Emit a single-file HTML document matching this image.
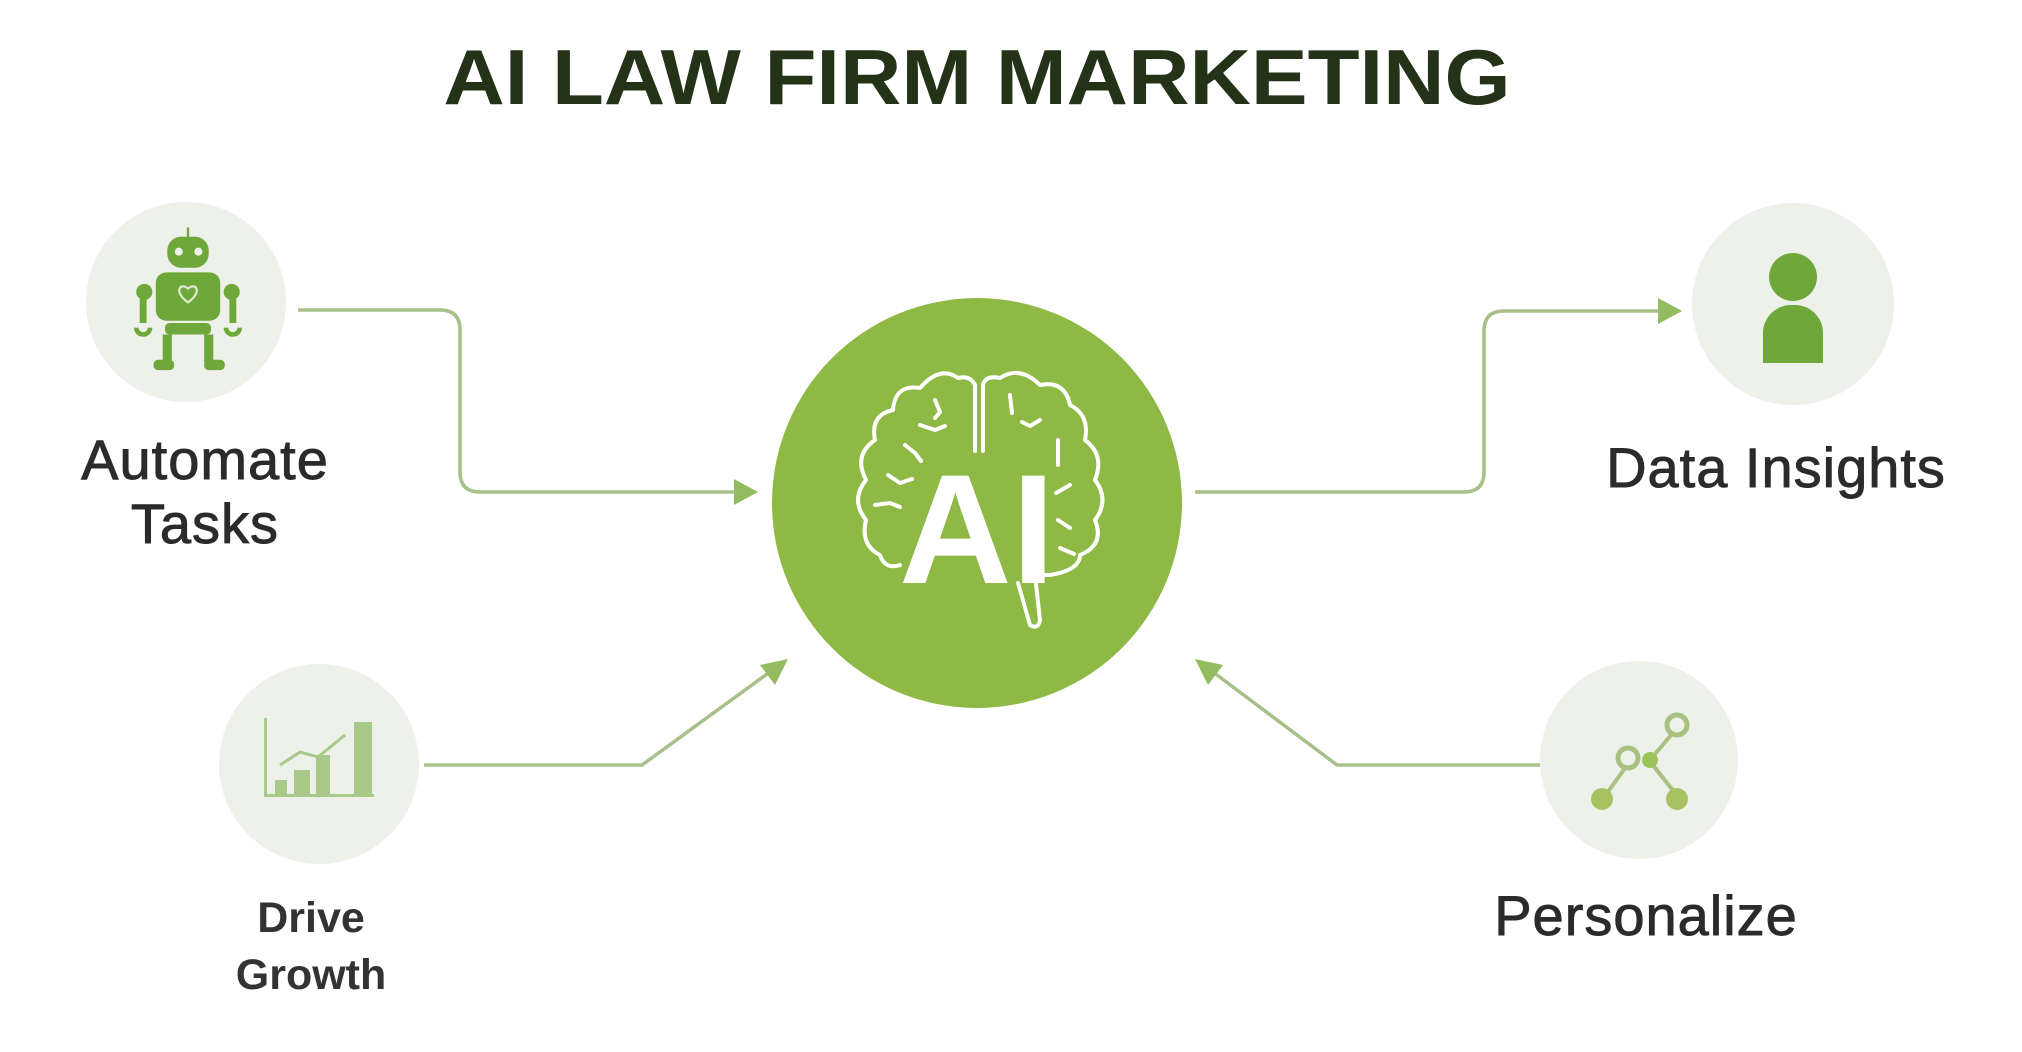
<!DOCTYPE html>
<html><head><meta charset="utf-8"><style>
html,body{margin:0;padding:0;background:#fff;}
body{width:2022px;height:1052px;position:relative;overflow:hidden;font-family:"Liberation Sans",sans-serif;}
.t{position:absolute;color:#2b2b2b;text-align:center;white-space:nowrap;transform:translateX(-50%);-webkit-text-stroke:0.9px #2b2b2b;}
</style></head><body>
<svg width="2022" height="1052" style="position:absolute;left:0;top:0">
<g fill="none" stroke="#a9c08a" stroke-width="3.5">
<path d="M298 310 H440 Q460 310 460 330 V472 Q460 492 480 492 H738"/>
<path d="M1195 492 H1464 Q1484 492 1484 472 V331 Q1484 311 1504 311 H1662"/>
<path d="M424 765 H642 L778 666"/>
<path d="M1540 765 H1337 L1205 666"/>
</g>
<g fill="#95bb60">
<polygon points="758,492 734,479 734,505"/>
<polygon points="1682,311 1658,298 1658,324"/>
<polygon points="788,659 760,665 775,685"/>
<polygon points="1195,659 1208,685 1223,665"/>
</g>
<circle cx="186" cy="302" r="100" fill="#eef0ea"/>
<circle cx="1793" cy="304" r="101" fill="#eef0ea"/>
<circle cx="319" cy="764" r="100" fill="#eef0ea"/>
<circle cx="1639" cy="760" r="99" fill="#eef0ea"/>
<circle cx="977" cy="503" r="205" fill="#8db944"/>
<g transform="translate(188,300) scale(1.15) translate(-188,-298)">
<g fill="#6fa83a">
<rect x="187" y="235" width="2" height="10"/>
<rect x="170" y="243" width="36" height="27" rx="12"/>
<rect x="160" y="274" width="56" height="42" rx="9"/>
<circle cx="150" cy="291" r="7"/><circle cx="226" cy="291" r="7"/>
<rect x="146" y="296" width="6" height="22"/><rect x="224" y="296" width="6" height="22"/>
<rect x="168" y="318" width="40" height="10" rx="4"/>
<rect x="166" y="328" width="8" height="24"/><rect x="202" y="328" width="8" height="24"/>
<rect x="158" y="350" width="18" height="9" rx="4"/><rect x="202" y="350" width="18" height="9" rx="4"/>
</g>
<g fill="none" stroke="#6fa83a" stroke-width="4"><path d="M143 322 a6 6 0 0 0 12 0"/><path d="M221 322 a6 6 0 0 0 12 0"/></g>
<circle cx="180" cy="256" r="3.5" fill="#eef0ea"/><circle cx="197" cy="256" r="3.5" fill="#eef0ea"/>
<path d="M188 288 c-8 -6 -12 4 0 12 c12 -8 8 -18 0 -12z" fill="none" stroke="#dfe9cf" stroke-width="2"/>
</g>
<g fill="#6fa83a">
<circle cx="1793" cy="277" r="24"/>
<path d="M1763 363 V333 a28 28 0 0 1 28 -28 h4 a28 28 0 0 1 28 28 V363 z"/>
</g>
<g fill="#a8c98a">
<rect x="264" y="794" width="110" height="3"/>
<rect x="264" y="718" width="3" height="78"/>
<rect x="275" y="780" width="12" height="14"/>
<rect x="294" y="770" width="16" height="24"/>
<rect x="316" y="755" width="14" height="39"/>
<rect x="354" y="722" width="18" height="72"/>
</g>
<path d="M280 765 L300 752 L318 757 L345 735" fill="none" stroke="#a8c98a" stroke-width="3"/>
<g stroke="#a8c080" stroke-width="4" fill="none">
<line x1="1602" y1="800" x2="1628" y2="764"/><line x1="1650" y1="760" x2="1677" y2="728"/><line x1="1652" y1="764" x2="1679" y2="798"/>
</g>
<circle cx="1677" cy="725" r="10" fill="#eef0ea" stroke="#a8c080" stroke-width="5"/>
<circle cx="1628" cy="758" r="10" fill="#eef0ea" stroke="#a8c080" stroke-width="5"/>
<circle cx="1650" cy="760" r="8" fill="#9cc25a"/>
<circle cx="1602" cy="799" r="11" fill="#a8c263"/>
<circle cx="1677" cy="799" r="11" fill="#a8c263"/>
<g fill="none" stroke="#fff" stroke-width="4" stroke-linejoin="round" stroke-linecap="round">
<path d="M983 451 V385 Q985 375 1000 378 Q1020 365 1040 385 Q1065 380 1070 405 Q1090 415 1085 440 Q1105 455 1095 480 Q1110 500 1095 520 Q1105 545 1080 555 Q1080 570 1050 575 L1035 575 L1040 620 Q1038 630 1030 625 L1018 583"/>
<path d="M975 451 V385 Q970 375 958 378 Q940 365 920 388 Q895 384 893 410 Q870 415 875 440 Q853 455 866 480 Q850 500 866 520 Q860 545 880 555 Q885 570 900 565"/>
<path d="M935 400 l5 12 l-5 6 M920 425 l15 5 l10 -4 M905 445 l10 8 l6 8 M888 475 l12 8 l12 -4 M875 505 l15 -2 l10 4 M1010 395 l2 18 M1040 420 l-10 6 l-8 -4 M1058 440 l0 25 M1070 485 l-14 8 M1058 520 l12 8 M1060 548 l14 6"/>
</g>
</svg>
<div class="t" style="left:977px;top:32px;font-size:78px;font-weight:bold;color:#243318;-webkit-text-stroke:0;transform:translateX(-50%) scaleX(1.09);">AI LAW FIRM MARKETING</div>
<div class="t" style="left:977px;top:452px;font-size:156px;font-weight:bold;color:#fff;line-height:156px;-webkit-text-stroke:0;">AI</div>
<div class="t" style="left:205px;top:428px;font-size:56px;line-height:64px;letter-spacing:1px;">Automate<br>Tasks</div>
<div class="t" style="left:1776px;top:436px;font-size:56px;line-height:64px;letter-spacing:1px;">Data Insights</div>
<div class="t" style="left:311px;top:890px;font-size:43px;line-height:57px;font-weight:bold;color:#333;-webkit-text-stroke:0;">Drive<br>Growth</div>
<div class="t" style="left:1646px;top:884px;font-size:56px;line-height:64px;letter-spacing:1px;">Personalize</div>
</body></html>
